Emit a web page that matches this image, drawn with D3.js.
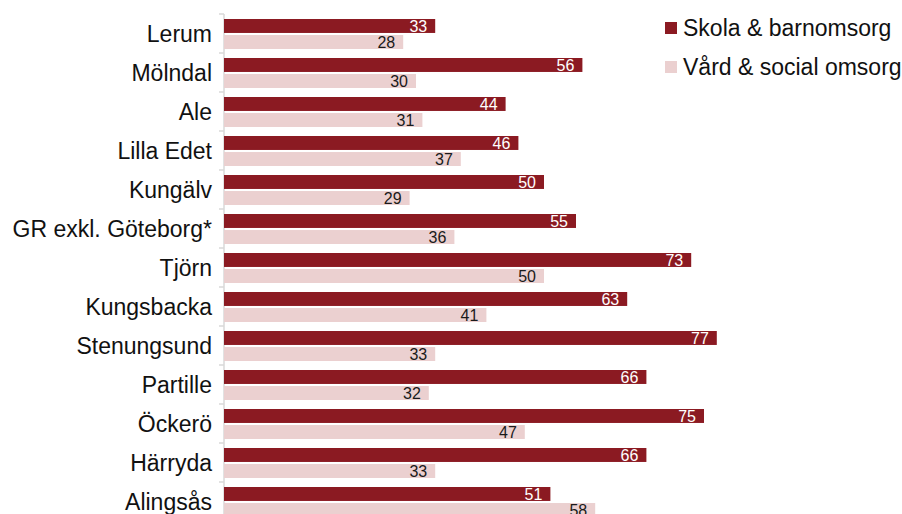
<!DOCTYPE html>
<html>
<head>
<meta charset="utf-8">
<script src="https://cdn.jsdelivr.net/npm/d3@7"></script>
<style>
  body { margin: 0; background: #fff; }
  svg text { font-family: "Liberation Sans", Arial, sans-serif; }
</style>
</head>
<body>
<svg id="chart" width="902" height="514"></svg>
<script>
var categories = ['Lerum', 'Mölndal', 'Ale', 'Lilla Edet', 'Kungälv', 'GR exkl. Göteborg*',
  'Tjörn', 'Kungsbacka', 'Stenungsund', 'Partille', 'Öckerö', 'Härryda', 'Alingsås'];
var seriesNames = ['Skola & barnomsorg', 'Vård & social omsorg'];
var skola = [33, 56, 44, 46, 50, 55, 73, 63, 77, 66, 75, 66, 51];
var vard = [28, 30, 31, 37, 29, 36, 50, 41, 33, 32, 47, 33, 58];

(function() {
  var colors = ['#8b1a22', '#ebd0d0'];
  var labelColors = ['#ffffff', '#1a1a1a'];

  var svg = d3.select('#chart'),
    left = 224,
    topY = 14,
    step = 39;

  var x = d3.scaleLinear().domain([0, 100]).range([left, left + 640]);

  var y0 = d3.scaleBand()
    .domain(categories)
    .range([topY, topY + step * categories.length]);

  var y1 = d3.scaleBand()
    .domain(seriesNames)
    .range([5, 35])
    .paddingInner(0.13);

  var rows = categories.map(function(c, i) {
    return { cat: c, vals: [skola[i], vard[i]] };
  });

  // axis line + ticks at band edges
  svg.append('line')
    .attr('x1', left).attr('x2', left)
    .attr('y1', topY).attr('y2', 514)
    .attr('stroke', '#d9d9d9').attr('stroke-width', 1.5);

  svg.selectAll('.tick')
    .data(categories.concat(['end']))
    .enter().append('line')
    .attr('x1', left - 5).attr('x2', left)
    .attr('y1', function(d, i) { return topY + i * step; })
    .attr('y2', function(d, i) { return topY + i * step; })
    .attr('stroke', '#d9d9d9').attr('stroke-width', 1.5);

  var group = svg.selectAll('.grp')
    .data(rows)
    .enter().append('g')
    .attr('transform', function(d) { return 'translate(0,' + y0(d.cat) + ')'; });

  group.append('text')
    .attr('x', 212)
    .attr('y', y0.bandwidth() / 2)
    .attr('dy', '0.36em')
    .attr('text-anchor', 'end')
    .attr('font-size', 23)
    .attr('fill', '#111')
    .text(function(d) { return d.cat; });

  group.selectAll('rect')
    .data(function(d) { return d.vals; })
    .enter().append('rect')
    .attr('x', x(0))
    .attr('y', function(d, i) { return y1(seriesNames[i]); })
    .attr('width', function(d) { return x(d) - x(0); })
    .attr('height', y1.bandwidth())
    .attr('fill', function(d, i) { return colors[i]; });

  group.selectAll('.val')
    .data(function(d) { return d.vals; })
    .enter().append('text')
    .attr('x', function(d) { return x(d) - 8; })
    .attr('y', function(d, i) { return y1(seriesNames[i]) + y1.bandwidth() / 2; })
    .attr('dy', '0.38em')
    .attr('text-anchor', 'end')
    .attr('font-size', 16)
    .attr('fill', function(d, i) { return labelColors[i]; })
    .text(function(d) { return d; });

  // legend
  var legend = svg.selectAll('.leg')
    .data(seriesNames)
    .enter().append('g')
    .attr('transform', function(d, i) { return 'translate(665,' + (22 + i * 39) + ')'; });

  legend.append('rect')
    .attr('width', 12).attr('height', 12)
    .attr('fill', function(d, i) { return colors[i]; });

  legend.append('text')
    .attr('x', 18)
    .attr('y', 6)
    .attr('dy', '0.36em')
    .attr('font-size', 23)
    .attr('fill', '#111')
    .text(function(d) { return d; });
})();
</script>
</body>
</html>
